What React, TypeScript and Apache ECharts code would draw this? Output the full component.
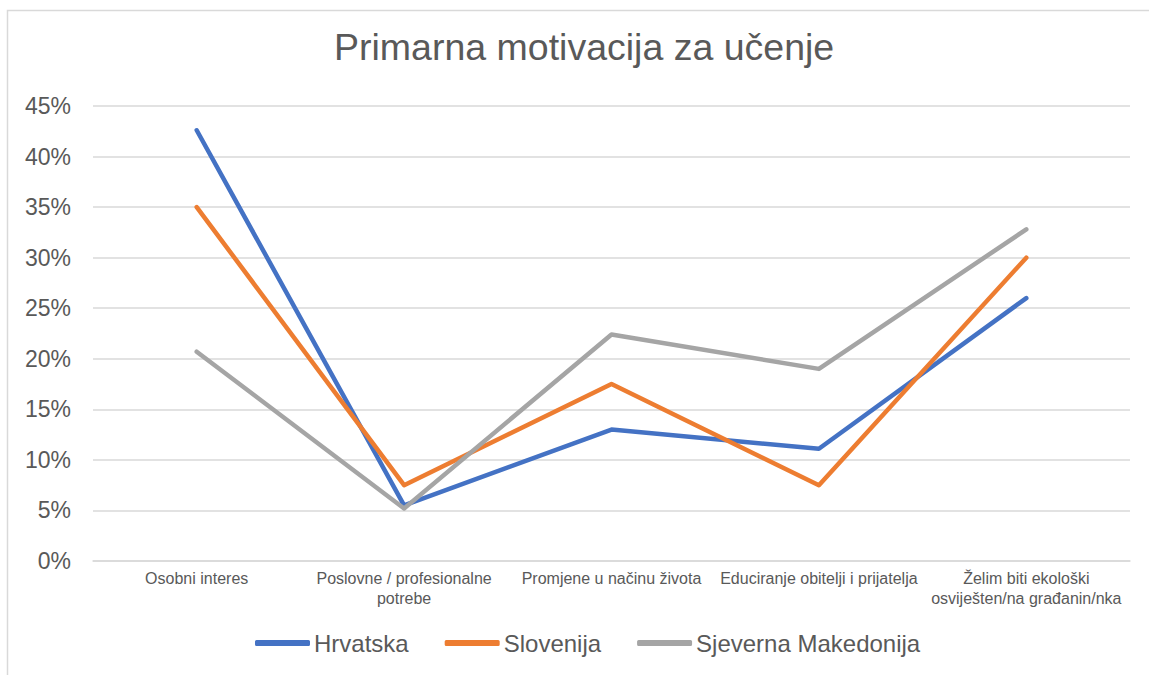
import React, { useEffect, useRef } from "react";
import * as echarts from "echarts";

const categories = [
  "Osobni interes",
  "Poslovne / profesionalne\npotrebe",
  "Promjene u načinu života",
  "Educiranje obitelji i prijatelja",
  "Želim biti ekološki\nosviješten/na građanin/nka",
];
const hrvatska = [0.426, 0.055, 0.13, 0.111, 0.26];
const slovenija = [0.35, 0.075, 0.175, 0.075, 0.3];
const makedonija = [0.207, 0.052, 0.224, 0.19, 0.328];
const seriesNames = ["Hrvatska", "Slovenija", "Sjeverna Makedonija"];
const colors = ["#4472C4", "#ED7D31", "#A5A5A5"];

export default function App() {
  const ref = useRef<HTMLDivElement>(null);
  useEffect(() => {
    if (!ref.current) return;
    const chart = echarts.init(ref.current, undefined, { renderer: "svg" });
    const font = "Liberation Sans, Arial, sans-serif";
    const data = [hrvatska, slovenija, makedonija];
    chart.setOption({
      animation: false,
      backgroundColor: "#ffffff",
      textStyle: { fontFamily: font },
      title: {
        text: "Primarna motivacija za učenje",
        left: 334,
        top: 28,
        padding: 0,
        textStyle: { fontFamily: font, fontSize: 37.5, fontWeight: "normal", color: "#595959" },
      },
      graphic: [
        {
          type: "rect",
          shape: { x: 7.5, y: 10.5, width: 1200, height: 800 },
          style: { fill: "none", stroke: "#D9D9D9", lineWidth: 1.5 },
          silent: true,
        },
      ],
      legend: {
        bottom: 15,
        left: 250,
        itemWidth: 55,
        itemHeight: 6,
        itemGap: 36,
        icon: "roundRect",
        textStyle: { fontFamily: font, fontSize: 24, color: "#595959", padding: [0, 0, 0, -1] },
        data: seriesNames,
      },
      grid: { left: 93, right: 19, top: 106, bottom: 114, containLabel: false },
      xAxis: {
        type: "category",
        data: categories,
        boundaryGap: true,
        axisLine: { show: true, lineStyle: { color: "#D9D9D9", width: 1.5 } },
        axisTick: { show: false },
        axisLabel: {
          interval: 0,
          margin: 8,
          fontFamily: font,
          fontSize: 16,
          lineHeight: 19.5,
          color: "#595959",
        },
      },
      yAxis: {
        type: "value",
        min: 0,
        max: 0.45,
        interval: 0.05,
        axisLine: { show: false },
        axisTick: { show: false },
        splitLine: { lineStyle: { color: "#D9D9D9", width: 1.5 } },
        axisLabel: {
          margin: 22,
          fontFamily: font,
          fontSize: 23,
          color: "#595959",
          formatter: (v: number) => Math.round(v * 100) + "%",
        },
      },
      series: seriesNames.map((name, i) => ({
        name,
        type: "line",
        data: data[i],
        symbol: "none",
        color: colors[i],
        lineStyle: { width: 4.5, color: colors[i], cap: "round", join: "round" },
      })),
    });
    return () => chart.dispose();
  }, []);
  return (
    <div
      ref={ref}
      style={{ position: "absolute", left: 0, top: 0, width: 1149, height: 675 }}
    />
  );
}
